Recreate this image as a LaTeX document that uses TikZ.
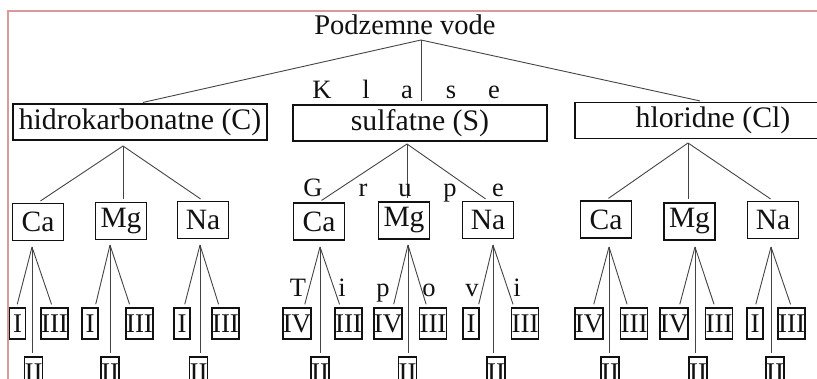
\documentclass[tikz,border=0pt]{standalone}
\usepackage{fontspec}
\setmainfont{Liberation Serif}
\usepackage{xcolor}
\definecolor{Frame}{HTML}{D99A9A}
\definecolor{Ink}{HTML}{111111}
\definecolor{Wire}{HTML}{444444}

\begin{document}
\begin{tikzpicture}[x=1pt,y=-1pt,every node/.style={text=Ink},
  klasa/.style={draw=Ink,line width=1.8pt,inner sep=0pt,minimum width=254pt,minimum height=36pt,font=\fontsize{29.8}{32}\selectfont},
  grupa/.style={draw=Ink,line width=1.8pt,inner sep=0pt,minimum width=51pt,minimum height=37pt,font=\fontsize{29.5}{32}\selectfont},
  tip/.style={draw=Ink,line width=1.6pt,inner sep=0pt,minimum width=16pt,minimum height=31pt,font=\fontsize{27}{30}\selectfont},
  slovo/.style={anchor=base,inner sep=0pt,font=\fontsize{26.5}{30}\selectfont},
  grana/.style={draw=Wire,line width=0.9pt,shorten >=3pt}]
\path[use as bounding box] (0,0) rectangle (817,379);
\clip (0,0) rectangle (817,379);
\draw[Frame,line width=2.5pt] (8,379)--(8,11)--(817,11);
% koren i klase
\node[anchor=base,font=\fontsize{28.5}{30}\selectfont] (koren) at (405,35) {Podzemne vode};
\coordinate (koren-r) at (421,40);
\node[klasa] (hidro) at (140,122) {hidrokarbonatne (C)};
\node[klasa] (sulf) at (420,123) {sulfatne (S)};
\node[klasa,minimum width=276pt] (hlor) at (713,120.5) {hloridne (Cl)};
\draw[grana] (koren-r)--(hidro.north);
\draw[grana] (koren-r)--(koren-r |- sulf.north);
\draw[grana] (koren-r)--([xshift=-10pt]hlor.north);
\node[slovo] (k1) at (322,99) {K}; \node[slovo] (k2) at (366,99) {l};
\node[slovo] (k3) at (407,99) {a}; \node[slovo] (k4) at (451,99) {s};
\node[slovo] (k5) at (494,99) {e};
% grupe
\coordinate (hidro-r) at (123,146);
\coordinate (sulf-r) at (407,144);
\coordinate (hlor-r) at (688,143);
\node[grupa] (hCa) at (38,222) {Ca};
\node[grupa] (hMg) at (121,221) {Mg};
\node[grupa] (hNa) at (203,220) {Na};
\node[grupa] (sCa) at (319,221.5) {Ca};
\node[grupa] (sMg) at (404,220.5) {Mg};
\node[grupa] (sNa) at (488,220) {Na};
\node[grupa] (cCa) at (606,219.5) {Ca};
\node[grupa] (cMg) at (689.5,221.5) {Mg};
\node[grupa] (cNa) at (773,220) {Na};
\draw[grana] (hidro-r)--(hCa.north); \draw[grana] (hidro-r)--(hidro-r |- hMg.north); \draw[grana] (hidro-r)--(hNa.north);
\draw[grana] (sulf-r)--(sCa.north); \draw[grana] (sulf-r)--(sulf-r |- sMg.north); \draw[grana] (sulf-r)--(sNa.north);
\draw[grana] (hlor-r)--(cCa.north); \draw[grana] (hlor-r)--(hlor-r |- cMg.north); \draw[grana] (hlor-r)--(cNa.north);
\node[slovo] (g1) at (313,197) {G}; \node[slovo] (g2) at (363,197) {r};
\node[slovo] (g3) at (405,197) {u}; \node[slovo] (g4) at (450,197) {p};
\node[slovo] (g5) at (498,197) {e};
% tipovi
\coordinate (hCa-r) at (32,247); \coordinate (hMg-r) at (110,245); \coordinate (hNa-r) at (200,245);
\coordinate (sCa-r) at (320,247); \coordinate (sMg-r) at (408,245); \coordinate (sNa-r) at (493,245);
\coordinate (cCa-r) at (609,247); \coordinate (cMg-r) at (695,247); \coordinate (cNa-r) at (771,247);
\node[tip] (hCa-a) at (17.5,323.5) {I}; \node[tip] (hCa-c) at (54.5,323.5) {III}; \node[tip] (hCa-b) at (33.5,372.5) {II};
\node[tip] (hMg-a) at (90,323.5) {I}; \node[tip] (hMg-c) at (139.5,323.5) {III}; \node[tip] (hMg-b) at (110,372.5) {II};
\node[tip] (hNa-a) at (182,323.5) {I}; \node[tip] (hNa-c) at (225.5,323.5) {III}; \node[tip] (hNa-b) at (198.5,372.5) {II};
\node[tip] (sCa-a) at (297,323.5) {IV}; \node[tip] (sCa-c) at (348.5,323.5) {III}; \node[tip] (sCa-b) at (320,372.5) {II};
\node[tip] (sMg-a) at (388,323.5) {IV}; \node[tip] (sMg-c) at (433,323.5) {III}; \node[tip] (sMg-b) at (407.5,372.5) {II};
\node[tip] (sNa-a) at (471,323.5) {I}; \node[tip] (sNa-c) at (525,323.5) {III}; \node[tip] (sNa-b) at (496,372.5) {II};
\node[tip] (cCa-a) at (589,323.5) {IV}; \node[tip] (cCa-c) at (634,323.5) {III}; \node[tip] (cCa-b) at (610,372.5) {II};
\node[tip] (cMg-a) at (674,323.5) {IV}; \node[tip] (cMg-c) at (719,323.5) {III}; \node[tip] (cMg-b) at (698,372.5) {II};
\node[tip] (cNa-a) at (755,323.5) {I}; \node[tip] (cNa-c) at (791.5,323.5) {III}; \node[tip] (cNa-b) at (775,372.5) {II};
\draw[grana] (hCa-r)--([xshift=-1pt]hCa-a.north); \draw[grana] (hCa-r)--([xshift=-2pt]hCa-c.north); \draw[grana] (hCa-r)--(hCa-r |- hCa-b.north);
\draw[grana] (hMg-r)--([xshift=5pt]hMg-a.north); \draw[grana] (hMg-r)--([xshift=-9pt]hMg-c.north); \draw[grana] (hMg-r)--(hMg-r |- hMg-b.north);
\draw[grana] (hNa-r)--([xshift=2pt]hNa-a.north); \draw[grana] (hNa-r)--([xshift=-6pt]hNa-c.north); \draw[grana] (hNa-r)--(hNa-r |- hNa-b.north);
\draw[grana] (sCa-r)--([xshift=7pt]sCa-a.north); \draw[grana] (sCa-r)--([xshift=-8pt]sCa-c.north); \draw[grana] (sCa-r)--(sCa-r |- sCa-b.north);
\draw[grana] (sMg-r)--([xshift=5pt]sMg-a.north); \draw[grana] (sMg-r)--([xshift=-6pt]sMg-c.north); \draw[grana] (sMg-r)--(sMg-r |- sMg-b.north);
\draw[grana] (sNa-r)--([xshift=7pt]sNa-a.north); \draw[grana] (sNa-r)--([xshift=-11pt]sNa-c.north); \draw[grana] (sNa-r)--(sNa-r |- sNa-b.north);
\draw[grana] (cCa-r)--([xshift=4pt]cCa-a.north); \draw[grana] (cCa-r)--([xshift=-6pt]cCa-c.north); \draw[grana] (cCa-r)--(cCa-r |- cCa-b.north);
\draw[grana] (cMg-r)--([xshift=5pt]cMg-a.north); \draw[grana] (cMg-r)--([xshift=-4pt]cMg-c.north); \draw[grana] (cMg-r)--(cMg-r |- cMg-b.north);
\draw[grana] (cNa-r)--(cNa-a.north); \draw[grana] (cNa-r)--(cNa-c.north); \draw[grana] (cNa-r)--(cNa-r |- cNa-b.north);
\node[slovo] (t1) at (298,297) {T}; \node[slovo] (t2) at (342,297) {i};
\node[slovo] (t3) at (383,297) {p}; \node[slovo] (t4) at (429,297) {o};
\node[slovo] (t5) at (472,297) {v}; \node[slovo] (t6) at (517,297) {i};
\end{tikzpicture}
\end{document}
